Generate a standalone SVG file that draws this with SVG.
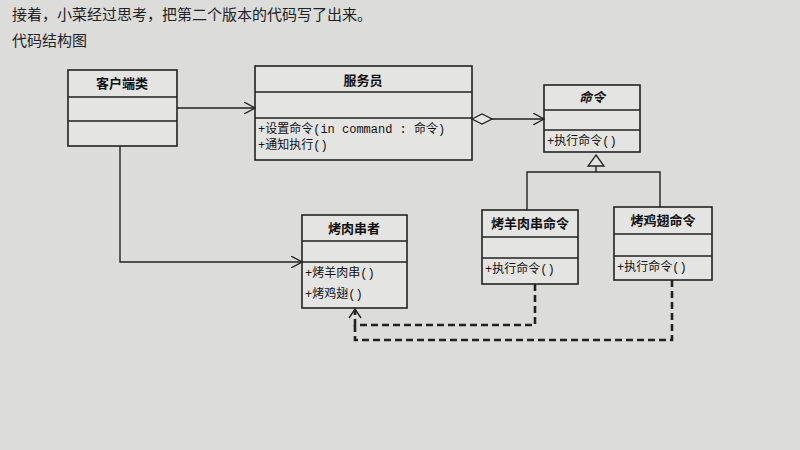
<svg xmlns="http://www.w3.org/2000/svg" width="800" height="450" viewBox="0 0 800 450">
<defs>
<marker id="open" viewBox="0 0 12 12" refX="11" refY="6" markerWidth="12" markerHeight="12" markerUnits="userSpaceOnUse" orient="auto"><path d="M0,0 L11,6 L0,12" fill="none" stroke="#222" stroke-width="1.3"/></marker>
<marker id="dia" viewBox="0 0 22 12" refX="1" refY="6" markerWidth="22" markerHeight="12" markerUnits="userSpaceOnUse" orient="auto"><path d="M1,6 L11,1 L21,6 L11,11 Z" fill="#e6e6e4" stroke="#222" stroke-width="1.3"/></marker>
</defs>
<style>
rect{fill:#e4e4e2;stroke:#222;stroke-width:1.6}
.d{stroke:#222;stroke-width:1.4}
.t{font-family:"Noto Sans CJK SC",sans-serif;font-size:13px;font-weight:bold;fill:#111}
.m{font-family:"Liberation Mono","Noto Sans CJK SC",monospace;font-size:12px;fill:#111}
.p{font-family:"Noto Sans CJK SC",sans-serif;font-size:15px;fill:#222}
.c{fill:none;stroke:#222;stroke-width:1.4}
.k{fill:none;stroke:#222;stroke-width:2.6;stroke-dasharray:7,4}
</style>
<rect x="0" y="0" width="800" height="450" style="fill:#dcdcda;stroke:none"/>
<text class="p" x="12" y="20">接着，小菜经过思考，把第二个版本的代码写了出来。</text>
<text class="p" x="12" y="46">代码结构图</text>
<g id="client"><rect x="68" y="70" width="109" height="76"/><line class="d" x1="68" y1="97" x2="177" y2="97"/><line class="d" x1="68" y1="121" x2="177" y2="121"/><text class="t" x="122" y="88" text-anchor="middle">客户端类</text></g>
<g id="waiter"><rect x="255" y="66" width="217" height="94"/><line class="d" x1="255" y1="92" x2="472" y2="92"/><line class="d" x1="255" y1="118" x2="472" y2="118"/><text class="t" x="363" y="85" text-anchor="middle">服务员</text><text class="m" x="258" y="133">+设置命令(in command  : 命令)</text><text class="m" x="258" y="149">+通知执行()</text></g>
<g id="command"><rect x="544" y="85" width="96" height="67"/><line class="d" x1="544" y1="110" x2="640" y2="110"/><line class="d" x1="544" y1="130" x2="640" y2="130"/><text class="t" x="592" y="102" text-anchor="middle" font-style="italic">命令</text><text class="m" x="547" y="145">+执行命令()</text></g>
<g id="mutton"><rect x="482" y="210" width="96" height="74"/><line class="d" x1="482" y1="237" x2="578" y2="237"/><line class="d" x1="482" y1="258" x2="578" y2="258"/><text class="t" x="530" y="228" text-anchor="middle">烤羊肉串命令</text><text class="m" x="485" y="273">+执行命令()</text></g>
<g id="wing"><rect x="614" y="207" width="98" height="73"/><line class="d" x1="614" y1="234" x2="712" y2="234"/><line class="d" x1="614" y1="256" x2="712" y2="256"/><text class="t" x="663" y="225" text-anchor="middle">烤鸡翅命令</text><text class="m" x="617" y="271">+执行命令()</text></g>
<g id="barbecuer"><rect x="302" y="215" width="105" height="93"/><line class="d" x1="302" y1="241" x2="407" y2="241"/><line class="d" x1="302" y1="262" x2="407" y2="262"/><text class="t" x="354" y="233" text-anchor="middle">烤肉串者</text><text class="m" x="305" y="277">+烤羊肉串()</text><text class="m" x="305" y="298">+烤鸡翅()</text></g>
<g id="connectors">
<path class="c" d="M177,108 H255" marker-end="url(#open)"/>
<path class="c" d="M472,119 H544" marker-start="url(#dia)" marker-end="url(#open)"/>
<path class="c" d="M120,146 V262 H302" marker-end="url(#open)"/>
<path d="M596,155 L604,166 L588,166 Z" fill="#e4e4e2" stroke="#222" stroke-width="1.3"/>
<path class="c" d="M596,166 V172 M527,210 V172 H660 V207"/>
<path class="k" d="M535,284 V325 H355 V310"/>
<path class="k" d="M672,280 V340 H355 V325"/>
<path class="c" d="M349,318 L355,309 L361,318"/>
</g>
</svg>
